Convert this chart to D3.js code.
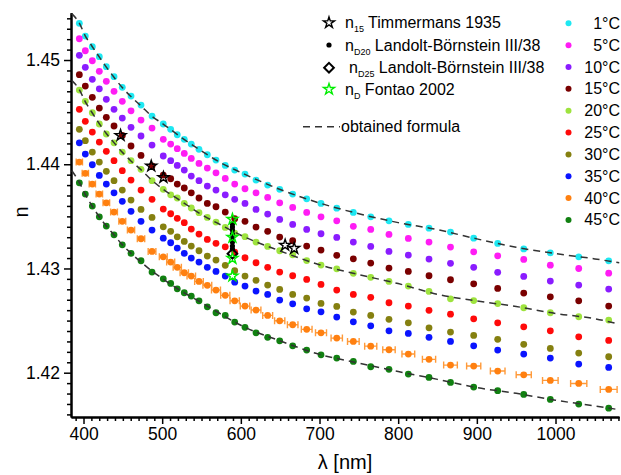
<!DOCTYPE html>
<html><head><meta charset="utf-8">
<script src="https://cdn.jsdelivr.net/npm/d3@7"></script>
<style>body{margin:0;background:#fff} text{font-family:"Liberation Sans",Arial,sans-serif}</style>
</head><body><svg id="c" width="621" height="475"></svg>
<script>
const wavelengths = [394.7,402.3,411.2,420.1,429.0,438.8,449.3,460.4,473.1,487.1,501.4,510.8,519.2,528.1,537.0,546.8,557.4,568.4,580.2,592.2,605.3,619.3,634.1,649.4,665.9,683.7,701.9,721.9,743.0,765.1,788.3,812.9,839.2,866.5,896.0,926.5,959.6,993.4,1029.5,1067.6];
const temperatures = ["1°C","5°C","10°C","15°C","20°C","25°C","30°C","35°C","40°C","45°C"];
const colors = ["#1ee8f2","#ff1cf4","#8a1cff","#7a0000","#9ee33e","#ff0a0a","#858010","#0a14ff","#ff8010","#118011"];
const n1  = [1.45352,1.45230,1.45128,1.45032,1.44936,1.44840,1.44738,1.44654,1.44568,1.44462,1.44386,1.44335,1.44283,1.44239,1.44194,1.44143,1.44091,1.44040,1.43989,1.43944,1.43906,1.43848,1.43800,1.43759,1.43714,1.43668,1.43624,1.43579,1.43538,1.43496,1.43457,1.43423,1.43387,1.43349,1.43291,1.43240,1.43188,1.43150,1.43112,1.43073];
const n5  = [1.45204,1.45089,1.44993,1.44892,1.44796,1.44700,1.44604,1.44513,1.44424,1.44347,1.44239,1.44194,1.44149,1.44104,1.44056,1.44008,1.43963,1.43918,1.43864,1.43810,1.43765,1.43726,1.43682,1.43630,1.43586,1.43538,1.43496,1.43457,1.43404,1.43375,1.43327,1.43288,1.43253,1.43205,1.43160,1.43121,1.43087,1.43032,1.43000,1.42955];
const n10 = [1.45045,1.44930,1.44815,1.44724,1.44623,1.44527,1.44443,1.44354,1.44271,1.44184,1.44079,1.44034,1.43989,1.43944,1.43887,1.43842,1.43791,1.43752,1.43707,1.43663,1.43624,1.43567,1.43522,1.43471,1.43423,1.43375,1.43333,1.43298,1.43253,1.43212,1.43164,1.43129,1.43090,1.43049,1.43011,1.42963,1.42924,1.42879,1.42841,1.42802];
const n15 = [1.44859,1.44750,1.44642,1.44539,1.44450,1.44367,1.44277,1.44175,1.44085,1.43983,1.43896,1.43861,1.43810,1.43772,1.43726,1.43676,1.43624,1.43592,1.43541,1.43477,1.43452,1.43397,1.43356,1.43301,1.43266,1.43215,1.43177,1.43126,1.43093,1.43052,1.43004,1.42972,1.42930,1.42892,1.42853,1.42809,1.42764,1.42728,1.42690,1.42639];
const n20 = [1.44712,1.44604,1.44494,1.44386,1.44290,1.44206,1.44117,1.44034,1.43951,1.43842,1.43759,1.43707,1.43676,1.43625,1.43580,1.43535,1.43490,1.43445,1.43394,1.43340,1.43305,1.43253,1.43212,1.43170,1.43131,1.43076,1.43033,1.42997,1.42953,1.42915,1.42876,1.42831,1.42780,1.42709,1.42692,1.42663,1.42623,1.42575,1.42537,1.42505];
const n25 = [1.44527,1.44412,1.44309,1.44213,1.44124,1.44034,1.43938,1.43848,1.43752,1.43663,1.43570,1.43525,1.43481,1.43439,1.43378,1.43330,1.43279,1.43241,1.43208,1.43157,1.43103,1.43055,1.43011,1.42965,1.42930,1.42895,1.42847,1.42793,1.42751,1.42723,1.42671,1.42639,1.42598,1.42562,1.42517,1.42479,1.42440,1.42402,1.42344,1.42310];
const n30 = [1.44335,1.44226,1.44117,1.44021,1.43932,1.43842,1.43752,1.43656,1.43567,1.43490,1.43400,1.43356,1.43304,1.43260,1.43215,1.43170,1.43119,1.43081,1.43030,1.42978,1.42927,1.42886,1.42841,1.42799,1.42751,1.42716,1.42665,1.42636,1.42582,1.42550,1.42512,1.42479,1.42431,1.42390,1.42358,1.42320,1.42272,1.42233,1.42188,1.42153];
const n35 = [1.44206,1.44098,1.43995,1.43893,1.43810,1.43726,1.43644,1.43548,1.43452,1.43368,1.43291,1.43247,1.43196,1.43145,1.43100,1.43061,1.43011,1.42972,1.42927,1.42869,1.42831,1.42783,1.42751,1.42697,1.42661,1.42613,1.42584,1.42534,1.42488,1.42450,1.42402,1.42377,1.42339,1.42300,1.42258,1.42217,1.42179,1.42140,1.42083,1.42051];
const n40 = [1.44021,1.43913,1.43810,1.43714,1.43630,1.43541,1.43452,1.43368,1.43285,1.43164,1.43112,1.43061,1.43011,1.42959,1.42927,1.42876,1.42838,1.42793,1.42742,1.42690,1.42639,1.42601,1.42550,1.42498,1.42460,1.42416,1.42383,1.42332,1.42300,1.42255,1.42220,1.42179,1.42128,1.42073,1.42064,1.42016,1.41980,1.41926,1.41897,1.41840];
const n45 = [1.43822,1.43714,1.43599,1.43496,1.43407,1.43323,1.43227,1.43145,1.43074,1.42965,1.42901,1.42857,1.42805,1.42767,1.42735,1.42690,1.42632,1.42575,1.42550,1.42486,1.42435,1.42383,1.42339,1.42306,1.42258,1.42217,1.42172,1.42140,1.42108,1.42057,1.42032,1.41987,1.41955,1.41907,1.41862,1.41828,1.41792,1.41744,1.41699,1.41660];
const err40 = [4.0,4.0,4.0,4.1,4.2,4.3,4.4,4.6,4.7,4.9,5.0,5.1,5.2,5.3,5.4,5.5,5.6,5.7,5.8,5.9,6.0,6.2,6.3,6.5,6.7,6.8,7.0,7.2,7.4,7.7,7.9,8.1,8.4,8.7,9.0,9.3,9.6,9.9,10.3,10.7];
const seriesValues = [n1,n5,n10,n15,n20,n25,n30,n35,n40,n45];

// "obtained formula" curves
const fitLambda = [385,395,402,411,420,429,439,449,460,473,487,500,525,550,575,600,650,700,750,800,850,900,950,1000,1050,1081];
const fit1  = [1.45445,1.45350,1.45235,1.45130,1.45030,1.44932,1.44832,1.44738,1.44652,1.44560,1.44460,1.44393,1.44254,1.44127,1.44012,1.43921,1.43758,1.43628,1.43525,1.43440,1.43372,1.43284,1.43203,1.43143,1.43092,1.43055];
const fit20 = [1.44805,1.44712,1.44604,1.44494,1.44390,1.44295,1.44205,1.44117,1.44034,1.43948,1.43845,1.43767,1.43642,1.43518,1.43416,1.43319,1.43168,1.43036,1.42941,1.42855,1.42752,1.42688,1.42635,1.42568,1.42518,1.42466];
const fit45 = [1.43940,1.43822,1.43714,1.43599,1.43496,1.43407,1.43320,1.43230,1.43148,1.43062,1.42975,1.42905,1.42780,1.42672,1.42561,1.42455,1.42305,1.42176,1.42092,1.42011,1.41936,1.41857,1.41802,1.41736,1.41680,1.41645];

const timLambda = [447.1,486.1,501.6,656.3,667.8];
const timN = [1.44277,1.43983,1.43874,1.43224,1.43193];
const lbD20Lambda = [589.3,589.3,589.3,589.3,589.3,589.3,589.3,589.3];
const lbD20N = [1.43427,1.43398,1.43369,1.43331,1.43292,1.43254,1.43215,1.43187];
const lbD25Lambda = [589.3];
const lbD25N = [1.43142];
const fontaoLambda = [589.3,589.3,589.3,589.3];
const fontaoN = [1.43472,1.43299,1.43097,1.42928];

const xTicks = [400,500,600,700,800,900,1000];
const yTicks = [1.42,1.43,1.44,1.45];

const svg = d3.select("#c");
const x = d3.scaleLinear().domain([384.1,1080.7]).range([71,619]);
const y = d3.scaleLinear().domain([1.41575,1.45454]).range([417,12.7]);

// axes
const xMinor = d3.range(390,1081,10).filter(v=>!xTicks.includes(v));
const yMinor = d3.range(1416,1455,1).map(v=>v/1000).filter(v=>!yTicks.some(t=>Math.abs(t-v)<1e-9));
function styleAxis(g){ g.select(".domain").attr("stroke","#000").attr("stroke-width",2); g.selectAll(".tick line").attr("stroke","#000").attr("stroke-width",1.5); g.selectAll("text").attr("fill","#000").style("font-size","17.5px"); }
svg.append("g").attr("transform","translate(0,417)").call(d3.axisBottom(x).tickValues(xMinor).tickSize(4).tickSizeOuter(0).tickFormat("")).call(styleAxis);
svg.append("g").attr("transform","translate(71,0)").call(d3.axisLeft(y).tickValues(yMinor).tickSize(4).tickSizeOuter(0).tickFormat("")).call(styleAxis);
svg.append("g").attr("transform","translate(0,417)").call(d3.axisBottom(x).tickValues(xTicks).tickSize(7).tickSizeOuter(0).tickPadding(4).tickFormat(d3.format("d"))).call(styleAxis);
svg.append("g").attr("transform","translate(71,0)").call(d3.axisLeft(y).tickValues(yTicks).tickSize(7).tickSizeOuter(0).tickPadding(4).tickFormat(d3.format(".2f"))).call(styleAxis);

svg.append("text").attr("x",345).attr("y",469).attr("text-anchor","middle").style("font-size","20px").text("λ [nm]");
svg.append("text").attr("transform","translate(28,212) rotate(-90)").attr("text-anchor","middle").style("font-size","20px").text("n");

const plot = svg.append("g");
// data points
seriesValues.forEach((vals,si)=>{
  const g = plot.append("g");
  if (si===8){
    const eg = g.append("g").attr("stroke","#ff9a3a").attr("stroke-width",1.4).attr("fill","none");
    wavelengths.forEach((w,i)=>{
      const x0=x(w-err40[i]), x1=x(w+err40[i]), yy=y(vals[i]);
      eg.append("path").attr("d",`M${x0},${yy}H${x1}M${x0},${yy-3.5}V${yy+3.5}M${x1},${yy-3.5}V${yy+3.5}`);
    });
  }
  g.selectAll("circle").data(vals).join("circle")
    .attr("cx",(d,i)=>x(wavelengths[i])).attr("cy",d=>y(d)).attr("r",3.4).attr("fill",colors[si]);
});

// fitted curves
const line = d3.line().x((d,i)=>x(fitLambda[i])).y(d=>y(d)).curve(d3.curveMonotoneX);
[fit1,fit20,fit45].forEach(f=>{
  plot.append("path").attr("d",line(f)).attr("fill","none").attr("stroke","#333").attr("stroke-width",1.5).attr("stroke-dasharray","7,5");
});

const star = d3.symbol().type(d3.symbolStar).size(38);
const dia = d3.symbol().type(d3.symbolDiamond2 || d3.symbolDiamond).size(60);
// Landolt nD20
plot.selectAll(".lb20").data(lbD20N).join("circle").attr("cx",(d,i)=>x(lbD20Lambda[i])).attr("cy",d=>y(d)).attr("r",2.6).attr("fill","#000");
// Timmermans
plot.selectAll(".tim").data(timN).join("path").attr("d",star).attr("transform",(d,i)=>`translate(${x(timLambda[i])},${y(d)})`).attr("fill","none").attr("stroke","#000").attr("stroke-width",1.4);
// Landolt nD25
plot.selectAll(".lb25").data(lbD25N).join("path").attr("d",dia).attr("transform",(d,i)=>`translate(${x(lbD25Lambda[i])},${y(d)})`).attr("fill","none").attr("stroke","#000").attr("stroke-width",2);
// Fontao
plot.selectAll(".fon").data(fontaoN).join("path").attr("d",star).attr("transform",(d,i)=>`translate(${x(fontaoLambda[i])},${y(d)})`).attr("fill","none").attr("stroke","#00ee00").attr("stroke-width",1.4);

// legend left
const leg = svg.append("g");
const legRows = [22.7,45,67.7,89.3];
leg.append("path").attr("d",star).attr("transform",`translate(329,${legRows[0]})`).attr("fill","none").attr("stroke","#000").attr("stroke-width",1.4);
leg.append("circle").attr("cx",329).attr("cy",legRows[1]).attr("r",2.6).attr("fill","#000");
leg.append("path").attr("d",dia).attr("transform",`translate(329,${legRows[2]})`).attr("fill","none").attr("stroke","#000").attr("stroke-width",2);
leg.append("path").attr("d",star).attr("transform",`translate(329,${legRows[3]})`).attr("fill","none").attr("stroke","#00ee00").attr("stroke-width",1.4);
const legTexts = [["n","15"," Timmermans 1935",345],["n","D20"," Landolt-Börnstein III/38",345],["n","D25"," Landolt-Börnstein III/38",349],["n","D"," Fontao 2002",345]];
legTexts.forEach((t,i)=>{
  const tx = leg.append("text").attr("x",t[3]).attr("y",legRows[i]+5.5).style("font-size","16px").attr("fill","#000");
  tx.append("tspan").text(t[0]);
  tx.append("tspan").attr("dy",4).style("font-size","9px").text(t[1]);
  tx.append("tspan").attr("dy",-4).text(t[2]);
});
leg.append("line").attr("x1",303).attr("x2",340).attr("y1",126.7).attr("y2",126.7).attr("stroke","#333").attr("stroke-width",1.5).attr("stroke-dasharray","7,5");
leg.append("text").attr("x",341).attr("y",132.2).style("font-size","16px").text("obtained formula");

// legend right
temperatures.forEach((t,i)=>{
  const cy = 23.3 + i*21.85;
  leg.append("circle").attr("cx",568.5).attr("cy",cy).attr("r",3).attr("fill",colors[i]);
  leg.append("text").attr("x",620).attr("y",cy+5.5).attr("text-anchor","end").style("font-size","16px").text(t);
});
</script></body></html>
